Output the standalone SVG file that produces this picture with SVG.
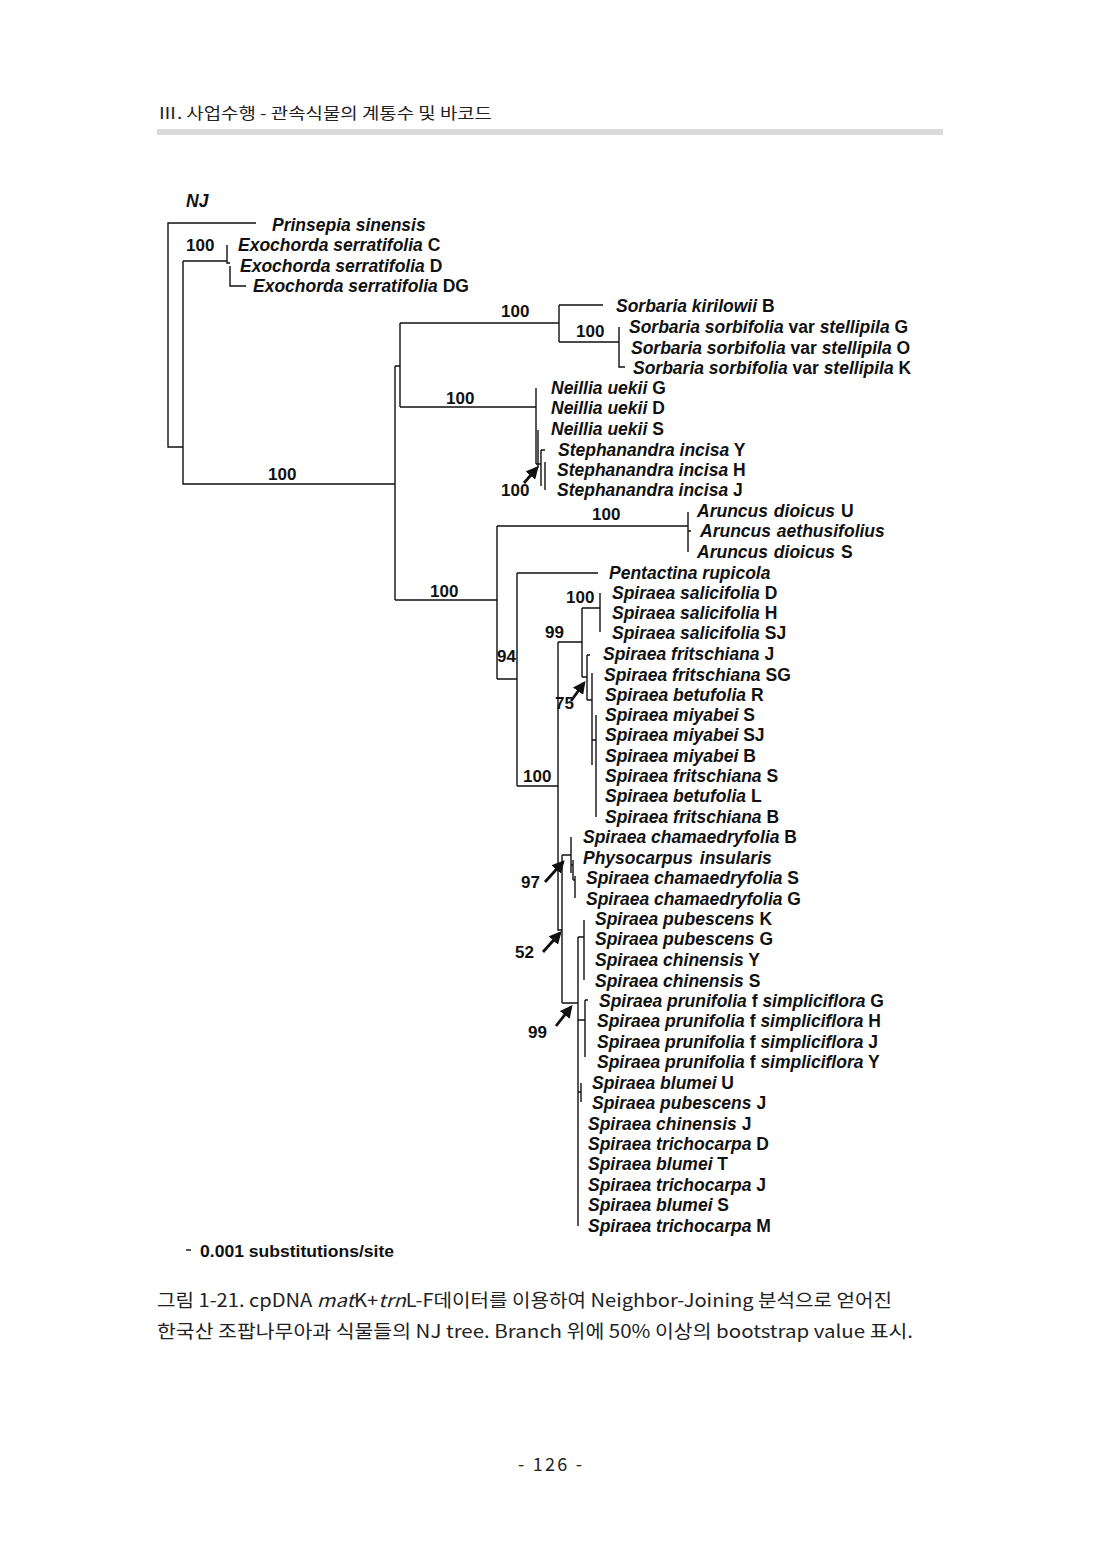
<svg xmlns="http://www.w3.org/2000/svg" width="1100" height="1554" viewBox="0 0 1100 1554">
<style>
.leaf{font-family:"Liberation Sans",Arial,sans-serif;font-size:17.5px;font-weight:bold;font-style:italic;fill:#111}
.u{font-style:normal}
.sup{font-family:"Liberation Sans",Arial,sans-serif;font-size:17px;font-weight:bold;fill:#111}
.br{fill:none;stroke:#111;stroke-width:1.4}
.arr{fill:none;stroke:#111;stroke-width:2.8;marker-end:url(#ah)}
.kr{font-family:"Noto Sans CJK KR","Noto Sans",sans-serif;fill:#222}
</style>
<defs>
<marker id="ah" viewBox="0 0 10 10" refX="8" refY="5" markerWidth="4.5" markerHeight="4.5" orient="auto" markerUnits="strokeWidth">
<path d="M0,0 L10,5 L0,10 z" fill="#111"/>
</marker>
</defs>
<rect width="1100" height="1554" fill="#fff"/>
<g id="header">
<text class="kr" x="158" y="119" font-size="16" textLength="334" lengthAdjust="spacingAndGlyphs">Ⅲ. 사업수행 - 관속식물의 계통수 및 바코드</text>
<rect x="157" y="129" width="786" height="6" fill="#d9d9d9"/>
</g>
<g id="title"><text class="leaf" x="186" y="207">NJ</text></g>
<g id="connectors">
<path class="br" d="M256,223 H168 V447 H183 M183,261 V484 H395 M183,261 H227 M227,245 V263 H230 M230,266 V286 H246"/>
<path class="br" d="M395,366 V600 M395,366 H400 M400,323 V407 M400,323 H559 M559,305 V342 M559,305 H603 M559,342 H619 M619,327 V367 H625 M400,407 H536"/>
<path class="br" d="M536,388 V464 M538,430 V468 M536,464 H541 M541,450 V486 M541,450 H545 M545,462 V490"/>
<path class="br" d="M395,600 H497 M497,526 V679 M497,526 H688 M688,512 V552 M688,531 H691 M497,679 H517 M517,573 V786 M517,573 H598 M517,786 H558"/>
<path class="br" d="M558,642 V930 H562 M558,642 H582 M582,608 V677 M582,608 H600 M600,593 V632 M582,677 H587 M587,655 V700 M587,655 H590 M587,700 H592 M592,673 V765 M592,740 H596 M596,715 V817"/>
<path class="br" d="M562,855 V1003 M562,855 H571 M571,837 V873 M571,865 H573 M573,860 V880 M573,880 H575 M575,876 V898"/>
<path class="br" d="M562,1003 H578 M578,937 V1226 M578,937 H584 M584,920 V980 M578,1020 H585 M585,1000 V1057 M585,1000 H588 M578,1092 H581 M581,1083 V1102"/>
<line class="arr" x1="524" y1="483" x2="537" y2="468"/>
<line class="arr" x1="571" y1="701" x2="584" y2="683"/>
<line class="arr" x1="545" y1="882" x2="563" y2="862"/>
<line class="arr" x1="543" y1="952" x2="560" y2="933"/>
<line class="arr" x1="556" y1="1026" x2="571" y2="1007"/>
</g>
<g id="support">
<text class="sup" x="186" y="251">100</text>
<text class="sup" x="268" y="480">100</text>
<text class="sup" x="501" y="317">100</text>
<text class="sup" x="576" y="337">100</text>
<text class="sup" x="446" y="404">100</text>
<text class="sup" x="501" y="496">100</text>
<text class="sup" x="592" y="520">100</text>
<text class="sup" x="430" y="597">100</text>
<text class="sup" x="566" y="603">100</text>
<text class="sup" x="545" y="638">99</text>
<text class="sup" x="497" y="662">94</text>
<text class="sup" x="555" y="709">75</text>
<text class="sup" x="523" y="782">100</text>
<text class="sup" x="521" y="888">97</text>
<text class="sup" x="515" y="958">52</text>
<text class="sup" x="528" y="1038">99</text>
</g>
<g id="leaves">
<g id="n-prinsepia"><text class="leaf" x="272" y="231">Prinsepia sinensis</text></g>
<g id="n-exo-c"><text class="leaf" x="238" y="251">Exochorda serratifolia<tspan class="u"> C</tspan></text></g>
<g id="n-exo-d"><text class="leaf" x="240" y="272">Exochorda serratifolia<tspan class="u"> D</tspan></text></g>
<g id="n-exo-dg"><text class="leaf" x="253" y="292">Exochorda serratifolia<tspan class="u"> DG</tspan></text></g>
<g id="n-sorb-kir"><text class="leaf" x="616" y="312">Sorbaria kirilowii<tspan class="u"> B</tspan></text></g>
<g id="n-sorb-g"><text class="leaf" x="629" y="333">Sorbaria sorbifolia<tspan class="u"> var </tspan>stellipila<tspan class="u"> G</tspan></text></g>
<g id="n-sorb-o"><text class="leaf" x="631" y="354">Sorbaria sorbifolia<tspan class="u"> var </tspan>stellipila<tspan class="u"> O</tspan></text></g>
<g id="n-sorb-k"><text class="leaf" x="633" y="374">Sorbaria sorbifolia<tspan class="u"> var </tspan>stellipila<tspan class="u"> K</tspan></text></g>
<g id="n-neil-g"><text class="leaf" x="551" y="394">Neillia uekii<tspan class="u"> G</tspan></text></g>
<g id="n-neil-d"><text class="leaf" x="551" y="414">Neillia uekii<tspan class="u"> D</tspan></text></g>
<g id="n-neil-s"><text class="leaf" x="551" y="435">Neillia uekii<tspan class="u"> S</tspan></text></g>
<g id="n-steph-y"><text class="leaf" x="558" y="456">Stephanandra incisa<tspan class="u"> Y</tspan></text></g>
<g id="n-steph-h"><text class="leaf" x="557" y="476">Stephanandra incisa<tspan class="u"> H</tspan></text></g>
<g id="n-steph-j"><text class="leaf" x="557" y="496">Stephanandra incisa<tspan class="u"> J</tspan></text></g>
<g id="n-arun-u"><text class="leaf" x="697" y="517" word-spacing="1">Aruncus dioicus<tspan class="u"> U</tspan></text></g>
<g id="n-arun-ae"><text class="leaf" x="700" y="537" word-spacing="1">Aruncus aethusifolius</text></g>
<g id="n-arun-s"><text class="leaf" x="697" y="558" word-spacing="1">Aruncus dioicus<tspan class="u"> S</tspan></text></g>
<g id="n-pent"><text class="leaf" x="609" y="579">Pentactina rupicola</text></g>
<g id="n-sal-d"><text class="leaf" x="612" y="599">Spiraea salicifolia<tspan class="u"> D</tspan></text></g>
<g id="n-sal-h"><text class="leaf" x="612" y="619">Spiraea salicifolia<tspan class="u"> H</tspan></text></g>
<g id="n-sal-sj"><text class="leaf" x="612" y="639">Spiraea salicifolia<tspan class="u"> SJ</tspan></text></g>
<g id="n-fri-j"><text class="leaf" x="603" y="660">Spiraea fritschiana<tspan class="u"> J</tspan></text></g>
<g id="n-fri-sg"><text class="leaf" x="604" y="681">Spiraea fritschiana<tspan class="u"> SG</tspan></text></g>
<g id="n-bet-r"><text class="leaf" x="605" y="701">Spiraea betufolia<tspan class="u"> R</tspan></text></g>
<g id="n-miy-s"><text class="leaf" x="605" y="721">Spiraea miyabei<tspan class="u"> S</tspan></text></g>
<g id="n-miy-sj"><text class="leaf" x="605" y="741">Spiraea miyabei<tspan class="u"> SJ</tspan></text></g>
<g id="n-miy-b"><text class="leaf" x="605" y="762">Spiraea miyabei<tspan class="u"> B</tspan></text></g>
<g id="n-fri-s"><text class="leaf" x="605" y="782">Spiraea fritschiana<tspan class="u"> S</tspan></text></g>
<g id="n-bet-l"><text class="leaf" x="605" y="802">Spiraea betufolia<tspan class="u"> L</tspan></text></g>
<g id="n-fri-b"><text class="leaf" x="605" y="823">Spiraea fritschiana<tspan class="u"> B</tspan></text></g>
<g id="n-cham-b"><text class="leaf" x="583" y="843">Spiraea chamaedryfolia<tspan class="u"> B</tspan></text></g>
<g id="n-phys"><text class="leaf" x="583" y="864" word-spacing="2">Physocarpus insularis</text></g>
<g id="n-cham-s"><text class="leaf" x="586" y="884">Spiraea chamaedryfolia<tspan class="u"> S</tspan></text></g>
<g id="n-cham-g"><text class="leaf" x="586" y="905">Spiraea chamaedryfolia<tspan class="u"> G</tspan></text></g>
<g id="n-pub-k"><text class="leaf" x="595" y="925">Spiraea pubescens<tspan class="u"> K</tspan></text></g>
<g id="n-pub-g"><text class="leaf" x="595" y="945">Spiraea pubescens<tspan class="u"> G</tspan></text></g>
<g id="n-chi-y"><text class="leaf" x="595" y="966">Spiraea chinensis<tspan class="u"> Y</tspan></text></g>
<g id="n-chi-s"><text class="leaf" x="595" y="987">Spiraea chinensis<tspan class="u"> S</tspan></text></g>
<g id="n-pru-g"><text class="leaf" x="599" y="1007">Spiraea prunifolia<tspan class="u"> f </tspan>simpliciflora<tspan class="u"> G</tspan></text></g>
<g id="n-pru-h"><text class="leaf" x="597" y="1027">Spiraea prunifolia<tspan class="u"> f </tspan>simpliciflora<tspan class="u"> H</tspan></text></g>
<g id="n-pru-j"><text class="leaf" x="597" y="1048">Spiraea prunifolia<tspan class="u"> f </tspan>simpliciflora<tspan class="u"> J</tspan></text></g>
<g id="n-pru-y"><text class="leaf" x="597" y="1068">Spiraea prunifolia<tspan class="u"> f </tspan>simpliciflora<tspan class="u"> Y</tspan></text></g>
<g id="n-blu-u"><text class="leaf" x="592" y="1089">Spiraea blumei<tspan class="u"> U</tspan></text></g>
<g id="n-pub-j"><text class="leaf" x="592" y="1109">Spiraea pubescens<tspan class="u"> J</tspan></text></g>
<g id="n-chi-j"><text class="leaf" x="588" y="1130">Spiraea chinensis<tspan class="u"> J</tspan></text></g>
<g id="n-tri-d"><text class="leaf" x="588" y="1150">Spiraea trichocarpa<tspan class="u"> D</tspan></text></g>
<g id="n-blu-t"><text class="leaf" x="588" y="1170">Spiraea blumei<tspan class="u"> T</tspan></text></g>
<g id="n-tri-j"><text class="leaf" x="588" y="1191">Spiraea trichocarpa<tspan class="u"> J</tspan></text></g>
<g id="n-blu-s"><text class="leaf" x="588" y="1211">Spiraea blumei<tspan class="u"> S</tspan></text></g>
<g id="n-tri-m"><text class="leaf" x="588" y="1232">Spiraea trichocarpa<tspan class="u"> M</tspan></text></g>
</g>
<g id="scale">
<line x1="186" y1="1250" x2="191" y2="1250" stroke="#111" stroke-width="1.4"/>
<text class="sup" x="200" y="1257" textLength="194" lengthAdjust="spacingAndGlyphs">0.001 substitutions/site</text>
</g>
<g id="caption">
<text class="kr" x="157" y="1307" font-size="18" textLength="735" lengthAdjust="spacingAndGlyphs">그림 1-21. cpDNA <tspan font-style="italic">mat</tspan>K+<tspan font-style="italic">trn</tspan>L-F데이터를 이용하여 Neighbor-Joining 분석으로 얻어진</text>
<text class="kr" x="157" y="1338" font-size="18" textLength="756" lengthAdjust="spacingAndGlyphs">한국산 조팝나무아과 식물들의 NJ tree. Branch 위에 50% 이상의 bootstrap value 표시.</text>
</g>
<g id="page"><text class="kr" x="518" y="1471" font-size="18" textLength="64" lengthAdjust="spacing">- 126 -</text></g>
</svg>
